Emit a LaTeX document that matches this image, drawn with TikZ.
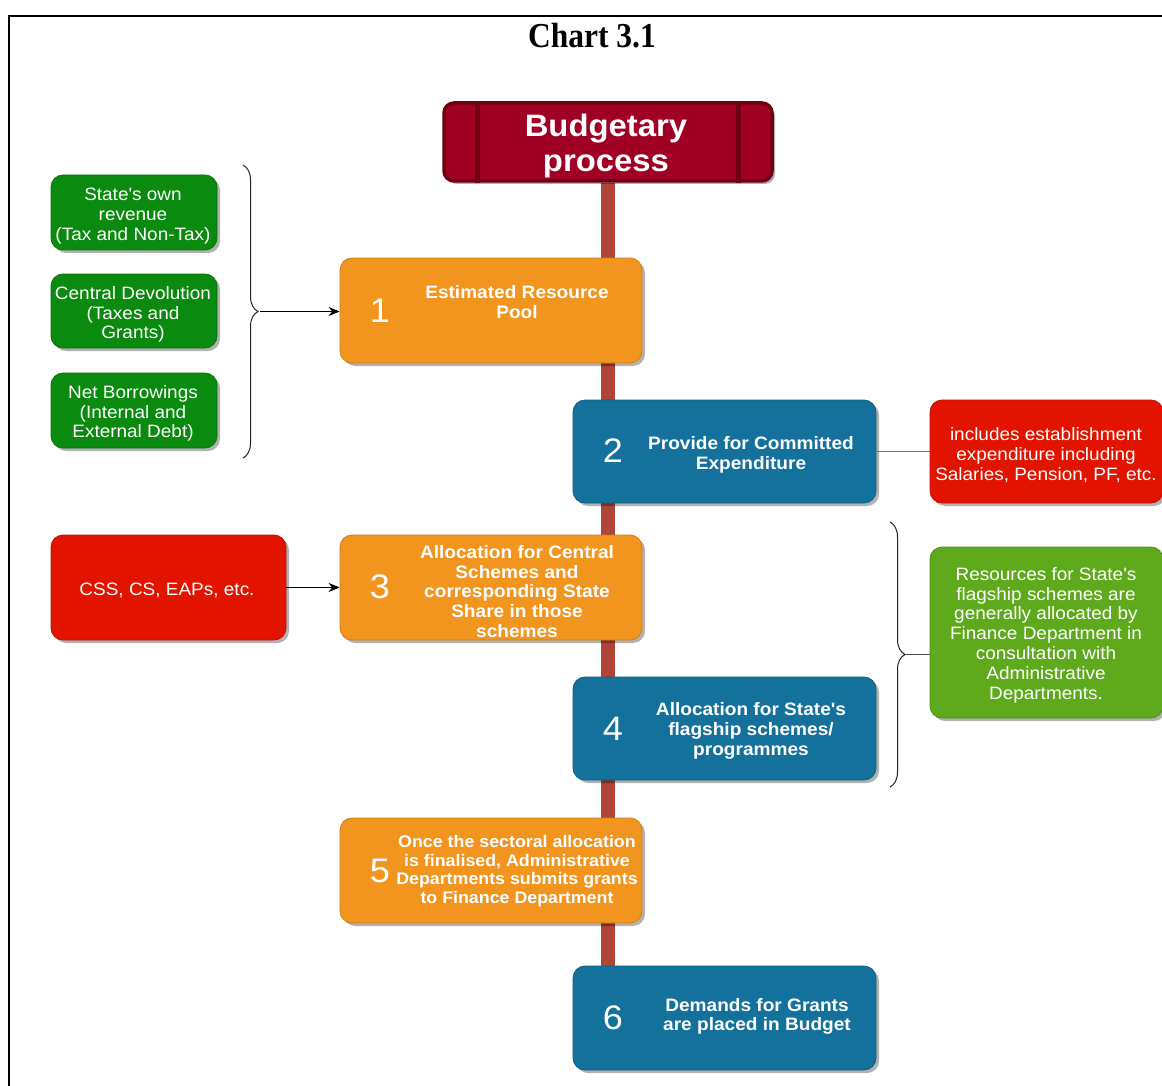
\documentclass[tikz,border=0pt]{standalone}
\usepackage{fontspec}
\setmainfont{Liberation Serif}
\newfontfamily\dsans[FakeStretch=1.06]{Liberation Sans}
\newfontfamily\tserif[FakeStretch=0.9]{Liberation Serif}
\usetikzlibrary{shadows,decorations.pathreplacing,arrows.meta,calc}
\pgfdeclarelayer{bg}
\pgfsetlayers{bg,main}
\definecolor{orng}{HTML}{F1951F}
\definecolor{blu}{HTML}{13719C}
\definecolor{redb}{HTML}{E21400}
\definecolor{dgrn}{HTML}{0A8A0E}
\definecolor{lgrn}{HTML}{5EAA1C}
\definecolor{hdrf}{HTML}{A00024}
\definecolor{hdrd}{HTML}{6E0012}
\definecolor{trunk}{HTML}{B04436}
\begin{document}
\begin{tikzpicture}[x=1pt,y=-1pt,
  shad/.style={drop shadow={shadow xshift=3pt,shadow yshift=-3pt,fill=black,opacity=0.3}},
  box/.style={rounded corners=12pt, fill=#1, draw=#1!85!black, line width=0.8pt, shad, inner sep=0pt},
  num/.style={font=\dsans\fontsize{34}{34}\selectfont, text=white, inner sep=0pt},
  lbl/.style={font=\dsans\bfseries\fontsize{18}{19.7}\selectfont, text=white, align=center, inner sep=0pt},
  side/.style={font=\dsans\fontsize{17.9}{19.8}\selectfont, text=white, align=center, inner sep=0pt},
  conn/.style={line width=1pt, -{Stealth[length=11pt,width=9pt]}},
  brc/.style={decorate, decoration={brace, amplitude=15pt}, line width=1pt, draw=black!85},
]
\useasboundingbox (0,0) rectangle (1162,1086);
\clip (0,0) rectangle (1162,1086);
\begin{pgfonlayer}{bg}
\fill[white] (0,0) rectangle (1162,1086);
\end{pgfonlayer}
% frame
\draw[line width=2.2pt] (9,1086) -- (9,16) -- (1162,16);
\node[font=\tserif\bfseries\fontsize{35}{35}\selectfont, inner sep=0pt] (title) at (592,36) {Chart 3.1};

% header
\node[rounded corners=10pt, fill=hdrf, draw=hdrd, line width=3.5pt, shad, minimum width=328pt, minimum height=78pt] (hdr) at (608,142) {};
\draw[hdrd, line width=5pt] ($(hdr.north west)+(35,0)$) -- ($(hdr.south west)+(35,0)$);
\draw[hdrd, line width=5pt] ($(hdr.north east)+(-35,0)$) -- ($(hdr.south east)+(-35,0)$);
\node[font=\dsans\bfseries\fontsize{31}{35}\selectfont, text=white, align=center, inner sep=0pt] (hdrt) at (606,146) {Budgetary\\process};

% main boxes
\node[box=orng, minimum width=302pt, minimum height=105pt] (b1) at (491,310.5) {};
\node[box=blu, minimum width=303pt, minimum height=103pt] (b2) at (724.5,451.5) {};
\node[box=orng, minimum width=302pt, minimum height=105pt] (b3) at (491,587.5) {};
\node[box=blu, minimum width=303pt, minimum height=103pt] (b4) at (724.5,728.5) {};
\node[box=orng, minimum width=302pt, minimum height=105pt] (b5) at (491,870.5) {};
\node[box=blu, minimum width=303pt, minimum height=104pt] (b6) at (724.5,1018) {};

\node[num] (n1) at (380,311) {1};
\node[lbl] (t1) at (517,302) {Estimated Resource\\Pool};
\node[num] (n2) at (613,451) {2};
\node[lbl] (t2) at (751,454.5) {Provide for Committed\\Expenditure};
\node[num] (n3) at (380,587) {3};
\node[lbl] (t3) at (517,591.5) {Allocation for Central\\Schemes and\\corresponding State\\Share in those\\schemes};
\node[num] (n4) at (613,729) {4};
\node[lbl] (t4) at (751,731) {Allocation for State's\\flagship schemes/\\programmes};
\node[num] (n5) at (380,871) {5};
\node[lbl, font=\dsans\bfseries\fontsize{16.8}{18.7}\selectfont] (t5) at (517,871) {Once the sectoral allocation\\is finalised, Administrative\\Departments submits grants\\to Finance Department};
\node[num] (n6) at (613,1018) {6};
\node[lbl] (t6) at (757,1016.5) {Demands for Grants\\are placed in Budget};

% trunk
\begin{pgfonlayer}{bg}
\draw[trunk, line width=14pt] (hdr.south) -- (hdr.south |- b6.north);
\end{pgfonlayer}

% left green boxes
\node[box=dgrn, minimum width=166pt, minimum height=75pt] (g1) at (134,212.5) {};
\node[side] (g1t) at (133,216) {State's own\\revenue\\(Tax and Non-Tax)};
\node[box=dgrn, minimum width=166pt, minimum height=74pt] (g2) at (134,311) {};
\node[side] (g2t) at (133,314.5) {Central Devolution\\(Taxes and\\Grants)};
\node[box=dgrn, minimum width=166pt, minimum height=75pt] (g3) at (134,410.5) {};
\node[side] (g3t) at (133,413.5) {Net Borrowings\\(Internal and\\External Debt)};

% left brace + arrow
\coordinate (lbtop) at (243,165);
\coordinate (lbbot) at (243,458);
\draw[brc] (lbtop) -- (lbbot);
\coordinate (lbtip) at (260,311.5);
\draw[conn] (lbtip) -- (b1.west |- lbtip);

% CSS box
\node[box=redb, minimum width=235pt, minimum height=105pt] (css) at (168.5,587.5) {};
\node[side] (csst) at (167,590) {CSS, CS, EAPs, etc.};
\draw[conn] (css.east) -- (b3.west);

% right red box
\node[box=redb, minimum width=233pt, minimum height=103pt] (rr) at (1046.5,451.5) {};
\node[side] (rrt) at (1046,455) {includes establishment\\expenditure including\\Salaries, Pension, PF, etc.};
\draw[black!55, line width=1.5pt] (b2.east) -- (rr.west);

% right green box + brace
\node[box=lgrn, minimum width=233pt, minimum height=171pt] (gr) at (1046.5,632.5) {};
\node[side] (grt) at (1046,635) {Resources for State's\\flagship schemes are\\generally allocated by\\Finance Department in\\consultation with\\Administrative\\Departments.};
\coordinate (rbtop) at (890,522);
\coordinate (rbbot) at (890,787);
\draw[brc] (rbtop) -- (rbbot);
\coordinate (rbtip) at (906,654.5);
\draw[black!70, line width=1pt] (rbtip) -- (gr.west |- rbtip);
\end{tikzpicture}
\end{document}
